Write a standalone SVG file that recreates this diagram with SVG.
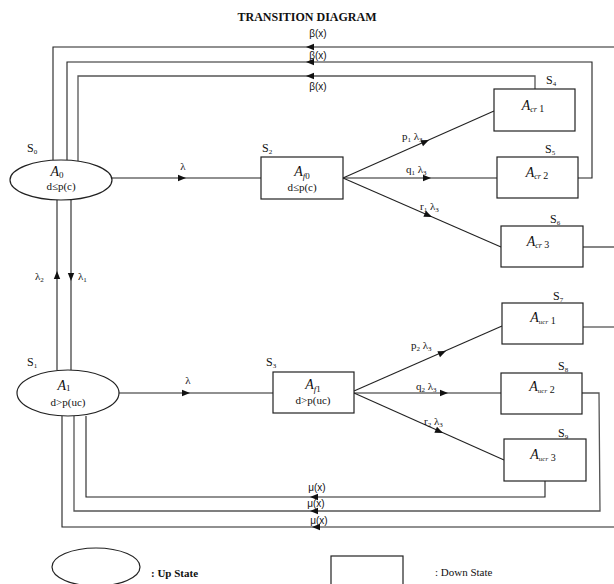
<svg xmlns="http://www.w3.org/2000/svg" width="614" height="584" viewBox="0 0 614 584">
<style>
text{font-family:"Liberation Serif","Times New Roman",serif;fill:#111}
.t{font-size:12px;font-weight:bold}
.s{font-size:12px}
.sub{font-size:7px}
.lab{font-size:11px}
.gk{font-family:"Liberation Sans",Arial,sans-serif;font-size:10px}
.n{fill:#fff;stroke:#222;stroke-width:1.2}
.c{fill:none;stroke:#222;stroke-width:1.1}
.g{fill:none;stroke:#555;stroke-width:1.3}
.A{font-size:14px;font-style:italic}
.d{font-size:11px}
</style>
<defs>
<path id="ah" d="M0,0 L-8,-3.2 L-8,3.2 Z" fill="#111"/>
</defs>
<text class="t" x="307" y="21" text-anchor="middle">TRANSITION DIAGRAM</text>

<g id="connectors">
<polyline class="c" points="614,47 53,47 53,160"/>
<polyline class="c" points="578,178 592,178 592,62 67,62 67,160"/>
<polyline class="g" points="535,89 535,76 78,76 78,161"/>
<use href="#ah" transform="translate(306,47) rotate(180)"/>
<use href="#ah" transform="translate(306,62) rotate(180)"/>
<use href="#ah" transform="translate(306,76) rotate(180)"/>
<text class="gk" x="318" y="37" text-anchor="middle">β(x)</text>
<text class="gk" x="318" y="59" text-anchor="middle">β(x)</text>
<text class="gk" x="318" y="90" text-anchor="middle">β(x)</text>

<line class="c" x1="57" y1="200" x2="57" y2="370"/>
<line class="c" x1="71" y1="200" x2="71" y2="370"/>
<use href="#ah" transform="translate(57,271) rotate(-90)"/>
<use href="#ah" transform="translate(71,281) rotate(90)"/>
<text class="lab" x="35" y="280">λ<tspan class="sub" dy="2">2</tspan></text>
<text class="lab" x="78" y="280">λ<tspan class="sub" dy="2">1</tspan></text>

<line class="c" x1="112" y1="178" x2="261" y2="178"/>
<use href="#ah" transform="translate(186,178)"/>
<text class="lab" x="183" y="170" text-anchor="middle">λ</text>

<line class="c" x1="119" y1="393" x2="273" y2="393"/>
<use href="#ah" transform="translate(190,393)"/>
<text class="lab" x="188" y="384" text-anchor="middle">λ</text>

<line class="c" x1="343" y1="178" x2="494" y2="111"/>
<line class="c" x1="343" y1="178" x2="497" y2="178"/>
<line class="c" x1="343" y1="178" x2="501" y2="247"/>
<use href="#ah" transform="translate(429,140) rotate(-24)"/>
<use href="#ah" transform="translate(431,178)"/>
<use href="#ah" transform="translate(432,217) rotate(24)"/>
<text class="lab" x="402" y="140">p<tspan class="sub" dy="2">1</tspan><tspan dy="-2"> λ</tspan><tspan class="sub" dy="2">3</tspan></text>
<text class="lab" x="406" y="173">q<tspan class="sub" dy="2">1</tspan><tspan dy="-2">  λ</tspan><tspan class="sub" dy="2">3</tspan></text>
<text class="lab" x="420" y="210">r<tspan class="sub" dy="2">1</tspan><tspan dy="-2"> λ</tspan><tspan class="sub" dy="2">3</tspan></text>

<line class="c" x1="354" y1="391" x2="502" y2="326"/>
<line class="c" x1="354" y1="393" x2="501" y2="393"/>
<line class="c" x1="354" y1="393" x2="504" y2="460"/>
<use href="#ah" transform="translate(446,351) rotate(-24)"/>
<use href="#ah" transform="translate(448,393)"/>
<use href="#ah" transform="translate(443,433) rotate(24)"/>
<text class="lab" x="411" y="349">p<tspan class="sub" dy="2">2</tspan><tspan dy="-2">  λ</tspan><tspan class="sub" dy="2">3</tspan></text>
<text class="lab" x="416" y="390">q<tspan class="sub" dy="2">2</tspan><tspan dy="-2">  λ</tspan><tspan class="sub" dy="2">3</tspan></text>
<text class="lab" x="424" y="425">r<tspan class="sub" dy="2">2</tspan><tspan dy="-2"> λ</tspan><tspan class="sub" dy="2">3</tspan></text>

<line class="c" x1="583" y1="247" x2="614" y2="247"/>
<line class="g" x1="583" y1="327" x2="614" y2="327"/>

<polyline class="c" points="545,481 545,497 86,497 86,416"/>
<polyline class="g" points="582,393 599,393 600,511 74,511 74,416"/>
<polyline class="c" points="614,527 62,527 62,416"/>
<use href="#ah" transform="translate(310,497) rotate(180)"/>
<use href="#ah" transform="translate(310,511) rotate(180)"/>
<use href="#ah" transform="translate(312,527) rotate(180)"/>
<text class="gk" x="317" y="491" text-anchor="middle">μ(x)</text>
<text class="gk" x="316" y="507" text-anchor="middle">μ(x)</text>
<text class="gk" x="319" y="524" text-anchor="middle">μ(x)</text>
</g>

<g id="S0">
<ellipse class="n" cx="61" cy="180" rx="51" ry="20"/>
<text class="s" x="27" y="152">S<tspan class="sub" dy="2">0</tspan></text>
<text class="A" x="57" y="176" text-anchor="middle">A<tspan font-size="9" font-style="normal" dy="2">0</tspan></text>
<text class="d" x="61" y="190" text-anchor="middle">d≤p(c)</text>
</g>

<g id="S1">
<ellipse class="n" cx="68" cy="393" rx="51" ry="23"/>
<text class="s" x="27" y="366">S<tspan class="sub" dy="2">1</tspan></text>
<text class="A" x="64" y="390" text-anchor="middle">A<tspan font-size="9" font-style="normal" dy="1">1</tspan></text>
<text class="d" x="68" y="406" text-anchor="middle">d&gt;p(uc)</text>
</g>

<g id="S2">
<rect class="n" x="261" y="157" width="82" height="42"/>
<text class="s" x="262" y="152">S<tspan class="sub" dy="2">2</tspan></text>
<text class="A" x="302" y="176" text-anchor="middle">A<tspan font-size="9" dy="3">f</tspan><tspan font-size="9" font-style="normal">0</tspan></text>
<text class="d" x="302" y="191" text-anchor="middle">d≤p(c)</text>
</g>

<g id="S3">
<rect class="n" x="273" y="372" width="81" height="41"/>
<text class="s" x="266" y="366">S<tspan class="sub" dy="2">3</tspan></text>
<text class="A" x="313" y="389" text-anchor="middle">A<tspan font-size="9" dy="3">f</tspan><tspan font-size="9" font-style="normal">1</tspan></text>
<text class="d" x="313" y="404" text-anchor="middle">d&gt;p(uc)</text>
</g>

<g id="S4">
<rect class="n" x="494" y="89" width="81" height="42"/>
<text class="s" x="546" y="84">S<tspan class="sub" dy="2">4</tspan></text>
<text class="A" x="533" y="110" text-anchor="middle">A<tspan font-size="8" dy="2">cr</tspan><tspan font-size="10" font-style="normal"> 1</tspan></text>
</g>

<g id="S5">
<rect class="n" x="497" y="157" width="81" height="41"/>
<text class="s" x="545" y="153">S<tspan class="sub" dy="2">5</tspan></text>
<text class="A" x="537" y="177" text-anchor="middle">A<tspan font-size="8" dy="2">cr</tspan><tspan font-size="10" font-style="normal"> 2</tspan></text>
</g>

<g id="S6">
<rect class="n" x="501" y="226" width="82" height="41"/>
<text class="s" x="550" y="223">S<tspan class="sub" dy="2">6</tspan></text>
<text class="A" x="538" y="246" text-anchor="middle">A<tspan font-size="8" dy="2">cr</tspan><tspan font-size="10" font-style="normal"> 3</tspan></text>
</g>

<g id="S7">
<rect class="n" x="502" y="303" width="81" height="41"/>
<text class="s" x="553" y="300">S<tspan class="sub" dy="2">7</tspan></text>
<text class="A" x="543" y="322" text-anchor="middle">A<tspan font-size="7" dy="2">ucr</tspan><tspan font-size="10" font-style="normal"> 1</tspan></text>
</g>

<g id="S8">
<rect class="n" x="501" y="373" width="81" height="41"/>
<text class="s" x="558" y="370">S<tspan class="sub" dy="2">8</tspan></text>
<text class="A" x="542" y="391" text-anchor="middle">A<tspan font-size="7" dy="2">ucr</tspan><tspan font-size="10" font-style="normal"> 2</tspan></text>
</g>

<g id="S9">
<rect class="n" x="504" y="439" width="82" height="42"/>
<text class="s" x="558" y="437">S<tspan class="sub" dy="2">9</tspan></text>
<text class="A" x="543" y="459" text-anchor="middle">A<tspan font-size="7" dy="2">ucr</tspan><tspan font-size="10" font-style="normal"> 3</tspan></text>
</g>

<g id="legend">
<ellipse class="n" cx="96" cy="567" rx="44" ry="19"/>
<text class="d" x="151" y="577" font-weight="bold">: Up State</text>
<rect class="n" x="331" y="556" width="72" height="40"/>
<text class="d" x="435" y="576">: Down State</text>
</g>
</svg>
